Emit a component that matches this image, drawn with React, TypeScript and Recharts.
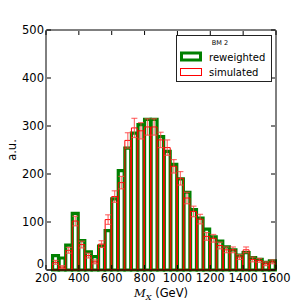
import React from 'react';
import { ComposedChart, Bar, XAxis, YAxis, ErrorBar, Label } from 'recharts';

// bin centres (GeV), 40 GeV bins from 240 to 1600
const binCenters = [
  260, 300, 340, 380, 420, 460, 500, 540, 580, 620, 660, 700, 740, 780, 820, 860, 900,
  940, 980, 1020, 1060, 1100, 1140, 1180, 1220, 1260, 1300, 1340, 1380, 1420, 1460, 1500, 1540, 1580,
];
const reweighted = [
  30, 25, 52, 118, 61, 38, 28, 50, 82, 148, 207, 254, 285, 303, 314, 314, 278,
  247, 220, 190, 162, 126, 108, 85, 69, 60, 48, 42, 31, 36, 26, 22, 16, 19,
];
const simulated = [
  16, 6, 41, 102, 53, 30, 17, 54, 105, 153, 182, 270, 296, 290, 298, 298, 271,
  255, 216, 191, 150, 122, 106, 70, 66, 51, 42, 42, 27, 42, 22, 20, 13, 17,
];
const simulatedErr = [
  4, 3, 6, 10, 7, 5, 4, 7, 10, 12, 13, 16, 20, 17, 17, 17, 16,
  16, 14, 14, 12, 11, 10, 8, 8, 7, 6, 6, 5, 6, 5, 4, 4, 4,
];
const xTicks = [200, 400, 600, 800, 1000, 1200, 1400, 1600];
const yTicks = [0, 100, 200, 300, 400, 500];

const data = binCenters.map((mx, i) => ({
  mx,
  reweighted: reweighted[i],
  simulated: simulated[i],
  err: simulatedErr[i],
}));

const W = 307;
const H = 307;
// each axis takes 1px, so the plot box is 46..276 x 30..270
const margin = { top: 29, right: 30, bottom: 36, left: 45 };
const plotW = 230;
const binW = (plotW * 40) / 1400;
const font = 'DejaVu Sans, sans-serif';

const BottomTick = ({ x, y, payload }: any) => (
  <g>
    <line x1={x} y1={y - 1} x2={x} y2={y - 5} stroke="#000" />
    <text x={x} y={y + 11.5} textAnchor="middle" fontSize={11.5} fontFamily={font} fill="#000">
      {payload.value}
    </text>
  </g>
);
const TopTick = ({ x, y }: any) => <line x1={x} y1={y + 1} x2={x} y2={y + 5} stroke="#000" />;
const LeftTick = ({ x, y, payload }: any) => (
  <g>
    <line x1={x + 1} y1={y} x2={x + 5} y2={y} stroke="#000" />
    {/* the bottom label sits a little higher so it does not run into the "200" below */}
    <text
      x={x - 2}
      y={y + (payload.value === 0 ? -2 : 4)}
      textAnchor="end"
      fontSize={11.5}
      fontFamily={font}
      fill="#000"
    >
      {payload.value}
    </text>
  </g>
);
const RightTick = ({ x, y }: any) => <line x1={x - 1} y1={y} x2={x - 5} y2={y} stroke="#000" />;

const LegendBox = () => (
  <svg width={W} height={H} style={{ position: 'absolute', left: 0, top: 0, pointerEvents: 'none' }}>
    <rect x={176.5} y={35.5} width={95} height={46} fill="#fff" stroke="#222" />
    <text x={220} y={45} textAnchor="middle" fontSize={6.5} fontFamily={font}>BM 2</text>
    <rect x={181.5} y={53} width={19} height={7} fill="#fff" stroke="#008000" strokeWidth={3} />
    <text x={209} y={60.5} fontSize={10} fontFamily={font}>reweighted</text>
    <rect x={180.5} y={68.5} width={21} height={7} fill="none" stroke="#ff0000" />
    <text x={209} y={75.5} fontSize={10} fontFamily={font}>simulated</text>
  </svg>
);

export default function App() {
  return (
    <div style={{ position: 'absolute', left: 0, top: 0, width: W, height: H, background: '#fff' }}>
      <ComposedChart width={W} height={H} data={data} margin={margin} barGap={0} barCategoryGap={0}>
        <XAxis
          dataKey="mx"
          type="number"
          domain={[200, 1600]}
          ticks={xTicks}
          height={1}
          tickSize={0}
          tickMargin={0}
          tickLine={false}
          tick={<BottomTick />}
          stroke="#000"
          interval={0}
        >
          <Label
            content={({ viewBox }: any) => (
              <text
                x={viewBox.x + viewBox.width / 2}
                y={viewBox.y + 27}
                textAnchor="middle"
                fontSize={11.5}
                fontFamily={font}
              >
                <tspan fontStyle="italic" fontFamily="DejaVu Serif, serif">M</tspan>
                <tspan fontStyle="italic" fontFamily="DejaVu Serif, serif" fontSize={8} dy={3}>X</tspan>
                <tspan dy={-3}> (GeV)</tspan>
              </text>
            )}
          />
        </XAxis>
        <XAxis
          xAxisId="top"
          dataKey="mx"
          type="number"
          orientation="top"
          domain={[200, 1600]}
          ticks={xTicks}
          height={1}
          tickSize={0}
          tickMargin={0}
          tickLine={false}
          tick={<TopTick />}
          stroke="#000"
          interval={0}
        />
        <YAxis
          type="number"
          domain={[0, 500]}
          ticks={yTicks}
          width={1}
          tickSize={0}
          tickMargin={0}
          tickLine={false}
          tick={<LeftTick />}
          stroke="#000"
          interval={0}
        >
          <Label
            content={({ viewBox }: any) => {
              const cx = viewBox.x - 33.5;
              const cy = viewBox.y + viewBox.height / 2;
              return (
                <text
                  x={cx}
                  y={cy}
                  transform={`rotate(-90 ${cx} ${cy})`}
                  textAnchor="middle"
                  dominantBaseline="central"
                  fontSize={11.5}
                  fontFamily={font}
                >
                  a.u.
                </text>
              );
            }}
          />
        </YAxis>
        <YAxis
          yAxisId="right"
          orientation="right"
          type="number"
          domain={[0, 500]}
          ticks={yTicks}
          width={1}
          tickSize={0}
          tickMargin={0}
          tickLine={false}
          tick={<RightTick />}
          stroke="#000"
          interval={0}
        />
        <Bar
          dataKey="reweighted"
          barSize={binW}
          fill="none"
          stroke="#008000"
          strokeWidth={3.2}
          isAnimationActive={false}
        />
        <Bar
          dataKey="simulated"
          xAxisId="top"
          yAxisId="right"
          barSize={binW}
          fill="none"
          stroke="#ff0000"
          strokeWidth={1}
          isAnimationActive={false}
        >
          <ErrorBar
            dataKey="err"
            direction="y"
            width={3}
            stroke="#ff4040"
            strokeOpacity={0.75}
            strokeWidth={1.2}
            isAnimationActive={false}
          />
        </Bar>
      </ComposedChart>
      <LegendBox />
    </div>
  );
}
